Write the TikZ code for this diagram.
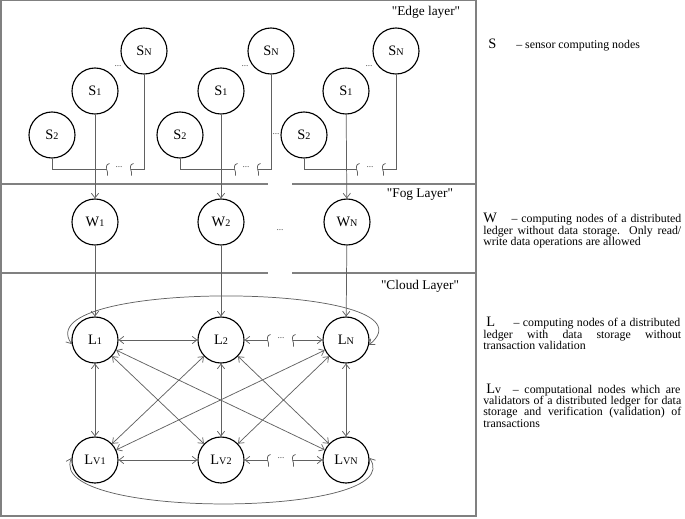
\documentclass[tikz,border=0pt]{standalone}
\usepackage{fontspec}
\setmainfont{Liberation Serif}
\usetikzlibrary{arrows.meta}
\newcommand\nlab[2]{{\fontsize{10.8}{12}\selectfont #1}{\fontsize{7.6}{9}\selectfont #2}}
\newcommand\biglet[1]{{\fontsize{10.8}{12}\selectfont #1}}
\newcommand\sq[1]{\draw[cn,shift={(#1)}] (2.5,-5.5) .. controls (-1.2,-5) and (-1.2,-0.5) .. (0,1.5) .. controls (0.6,3) .. (0.6,6.5);}
\begin{document}
\begin{tikzpicture}[x=0.75pt,y=-0.75pt,
  nd/.style={circle,draw=black,line width=0.85pt,minimum size=34.5pt,inner sep=0pt},
  cn/.style={draw=black!62,line width=0.55pt},
  arr/.style={cn,-{Straight Barb[length=3.5pt,width=5.5pt]}},
  darr/.style={cn,{Straight Barb[length=3.5pt,width=5.5pt]}-{Straight Barb[length=3.5pt,width=5.5pt]}},
  larr/.style={cn,{Straight Barb[length=3.5pt,width=5.5pt]}-},
  frm/.style={draw=black!50,line width=0.8pt},
  lay/.style={inner sep=0pt,font=\fontsize{10}{12}\selectfont},
  dots/.style={inner sep=0pt,text=black!70,font=\fontsize{7}{7}\selectfont},
  lg/.style={anchor=base west,inner sep=0pt,font=\fontsize{8.9}{10}\selectfont}]
\useasboundingbox (0,0) rectangle (685,518);
% frame
\draw[frm] (1,0.5) rectangle (476,516);
\draw[frm] (1,184) -- (268,184);
\draw[frm] (292,184) -- (476,184);
\draw[frm] (1,273) -- (268,273);
\draw[frm] (292,273) -- (476,273);
% layer labels
\node[lay] (edge) at (426,12) {\textquotedbl Edge layer\textquotedbl};
\node[lay] (fog) at (420,195) {\textquotedbl Fog Layer\textquotedbl};
\node[lay] (cloud) at (420,286) {\textquotedbl Cloud Layer\textquotedbl};
% sensor nodes
\node[nd] (S2a) at (52,135) {\nlab{S}{2}};
\node[nd] (S1a) at (95,91) {\nlab{S}{1}};
\node[nd] (SNa) at (144,51) {\nlab{S}{N}};
\node[nd] (S2b) at (180,135) {\nlab{S}{2}};
\node[nd] (S1b) at (221,91) {\nlab{S}{1}};
\node[nd] (SNb) at (271,51) {\nlab{S}{N}};
\node[nd] (S2c) at (304,135) {\nlab{S}{2}};
\node[nd] (S1c) at (346,91) {\nlab{S}{1}};
\node[nd] (SNc) at (396,51) {\nlab{S}{N}};
\node[dots] (d1) at (118,66) {...};
\node[dots] (d2) at (245,66) {...};
\node[dots] (d3) at (369,66) {...};
\node[dots] (d4) at (276,134) {...};
% buses
\coordinate (ba1) at (107,169); \coordinate (bb1) at (131,169);
\coordinate (ba2) at (235,169); \coordinate (bb2) at (258,169);
\coordinate (ba3) at (357,169); \coordinate (bb3) at (383,169);
\draw[cn] (S2a.south) |- (ba1);
\draw[cn] (bb1) -| (SNa.south);
\draw[cn] (S2b.south) |- (ba2);
\draw[cn] (bb2) -| (SNb.south);
\draw[cn] (S2c.south) |- (ba3);
\draw[cn] (bb3) -| (SNc.south);
\sq{ba1}\sq{bb1}\sq{ba2}\sq{bb2}\sq{ba3}\sq{bb3}
\node[dots] (bd1) at (119,167) {...};
\node[dots] (bd2) at (246,167) {...};
\node[dots] (bd3) at (370,167) {...};
% fog nodes
\node[nd] (W1) at (95,222) {\nlab{W}{1}};
\node[nd] (W2) at (221,222) {\nlab{W}{2}};
\node[nd] (WN) at (347,222) {\nlab{W}{N}};
\node[dots] (dw) at (280,230) {...};
\draw[arr] (S1a) -- (W1);
\draw[arr] (S1b) -- (W2);
\draw[arr] (S1c) -- (WN);
% cloud nodes
\node[nd] (L1) at (95,340) {\nlab{L}{1}};
\node[nd] (L2) at (221,340) {\nlab{L}{2}};
\node[nd] (LN) at (346,340) {\nlab{L}{N}};
\node[nd] (V1) at (95,460) {\nlab{L}{V1}};
\node[nd] (V2) at (221,460) {\nlab{L}{V2}};
\node[nd] (VN) at (346,460) {\nlab{L}{VN}};
\draw[arr] (W1) -- (L1);
\draw[arr] (W2) -- (L2);
\draw[arr] (WN) -- (LN);
% horizontal links
\draw[darr] (L1) -- (L2);
\coordinate (lb1) at (268,340); \coordinate (lb2) at (293,340);
\draw[larr] (L2) -- (lb1);
\draw[arr] (lb2) -- (LN);
\sq{lb1}\sq{lb2}
\node[dots] (ld) at (281,338) {...};
\draw[darr] (V1) -- (V2);
\coordinate (vb1) at (268,460); \coordinate (vb2) at (293,460);
\draw[larr] (V2) -- (vb1);
\draw[arr] (vb2) -- (VN);
\sq{vb1}\sq{vb2}
\node[dots] (vd) at (281,458) {...};
% verticals and diagonals
\draw[darr] (L1) -- (V1);
\draw[darr] (L2) -- (V2);
\draw[darr] (LN) -- (VN);
\draw[darr] (L1) -- (V2);
\draw[darr] (L1) -- (VN);
\draw[darr] (L2) -- (V1);
\draw[darr] (L2) -- (VN);
\draw[darr] (LN) -- (V1);
\draw[darr] (LN) -- (V2);
% loops
\draw[darr] (L1.190) .. controls (25,278) and (445,282) .. (LN.348);
\draw[darr] (V1.175) .. controls (45,520) and (410,518) .. (VN.5);
% legend
\node[lg] (tS) at (488,48.5) {\biglet{S}\hspace{15pt}– sensor computing nodes};
\node[lg] (tW1) at (483,222.8) {\makebox[148.5pt][s]{\biglet{W}\hspace{11pt}– computing nodes of a distributed}};
\node[lg] (tW2) at (483,234) {\makebox[148.5pt][s]{ledger without data storage. Only read/}};
\node[lg] (tW3) at (483,245.2) {write data operations are allowed};
\node[lg] (tL1) at (486,326.8) {\makebox[145.5pt][s]{\biglet{L}\hspace{14pt}– computing nodes of a distributed}};
\node[lg] (tL2) at (483,338) {\makebox[148.5pt][s]{ledger with data storage without}};
\node[lg] (tL3) at (483,349.2) {transaction validation};
\node[lg] (tV1) at (486,393.5) {\makebox[145.5pt][s]{\biglet{L}v\hspace{9pt}– computational nodes which are}};
\node[lg] (tV2) at (483,404.7) {\makebox[148.5pt][s]{validators of a distributed ledger for data}};
\node[lg] (tV3) at (483,415.9) {\makebox[148.5pt][s]{storage and verification (validation) of}};
\node[lg] (tV4) at (483,427.1) {transactions};
\end{tikzpicture}
\end{document}
